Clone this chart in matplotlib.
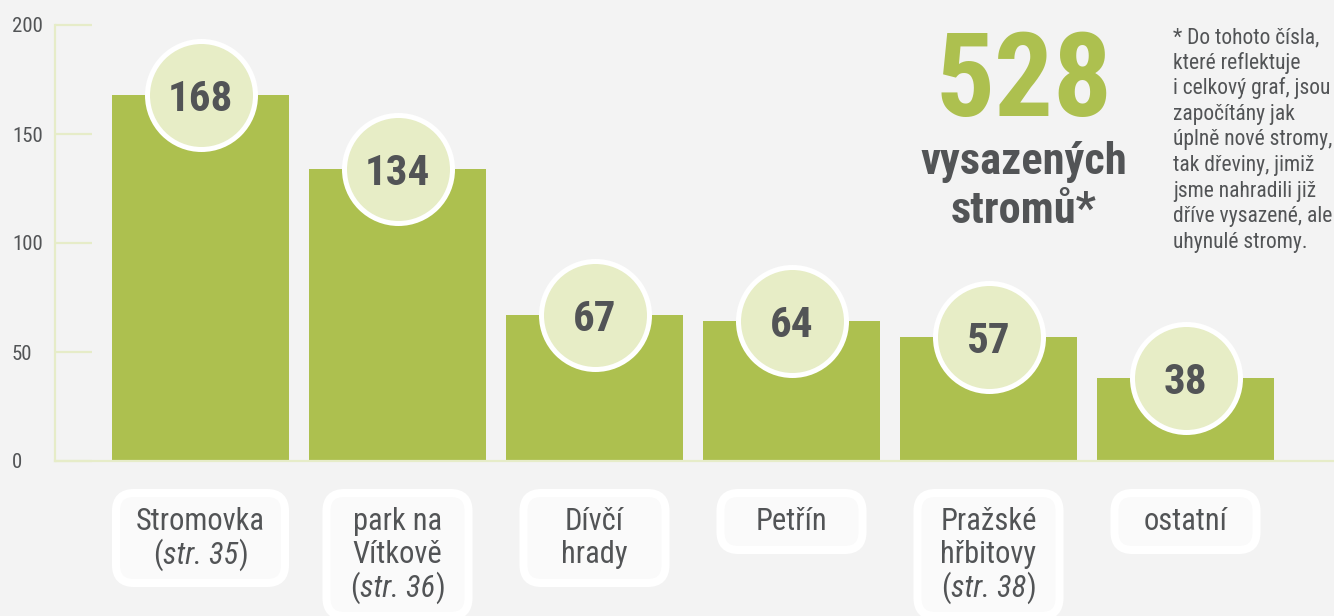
import matplotlib
matplotlib.use("Agg")
import matplotlib.pyplot as plt
from matplotlib import font_manager
from matplotlib.patches import FancyBboxPatch
from matplotlib.offsetbox import TextArea, HPacker, AnnotationBbox

# ---- data ----
names = ["Stromovka", "park na\nVítkově", "Dívčí\nhrady", "Petřín", "Pražské\nhřbitovy", "ostatní"]
pages = ["35", "36", None, None, "38", None]
values = [168, 134, 67, 64, 57, 38]
total = 528
yticks = [0, 50, 100, 150, 200]
total_label = ["vysazených", "stromů*"]
note_lines = ["* Do tohoto čísla,", "které reflektuje", "i celkový graf, jsou",
              "započítány jak", "úplně nové stromy,", "tak dřeviny, jimiž",
              "jsme nahradili již", "dříve vysazené, ale", "uhynulé stromy."]

# ---- style ----
BG = "#f3f3f3"
GREEN = "#adc04f"
PALE = "#e6ecc8"
CIRCLE = "#e7edc6"
DARK = "#525456"
BOXFILL = "#fafafa"

avail = {f.name for f in font_manager.fontManager.ttflist}
FONT = next((f for f in ["Roboto Condensed", "Liberation Sans Narrow", "DejaVu Sans"] if f in avail), "DejaVu Sans")
plt.rcParams["font.family"] = [FONT, "DejaVu Sans"]

W, H = 1334, 616
fig = plt.figure(figsize=(W / 100, H / 100), dpi=100, facecolor=BG)
ax = fig.add_axes([55 / W, 155 / H, 1279 / W, 436 / H])
ax.set_facecolor(BG)

x = list(range(len(values)))
ax.set_xlim(-145.5 / 197, (W - 200.5) / 197)
ax.set_ylim(0, 200)
pxx = 197.0          # pixels per x unit
pxy = 436 / 200.0    # pixels per y unit

ax.bar(x, values, width=177 / 197, color=GREEN, zorder=2)

# axis styling
for s in ["top", "right"]:
    ax.spines[s].set_visible(False)
ax.spines["left"].set_bounds(0, 200)
for s in ["left", "bottom"]:
    ax.spines[s].set_color(PALE)
    ax.spines[s].set_linewidth(1.6)
ax.set_xticks([])
ax.set_yticks(yticks)
ax.set_yticklabels([str(t) for t in yticks])
ax.tick_params(axis="y", direction="in", length=37 * 0.72, width=1.6, color=PALE,
               pad=31, labelsize=15, labelcolor=DARK)
for lab in ax.get_yticklabels():
    lab.set_horizontalalignment("left")

# value circles
ax.scatter(x, values, s=(108 * 0.72) ** 2, c=CIRCLE, edgecolors="white",
           linewidths=3.6, zorder=3, clip_on=False)
for i, v in zip(x, values):
    ax.text(i, v, str(v), ha="center", va="center_baseline", fontsize=31,
            fontweight="bold", color=DARK, zorder=4)

# category labels in rounded boxes
LINE = 33
packs = []
for i, name, page in zip(x, names, pages):
    lines = [[(l, "normal")] for l in name.split("\n")]
    if page:
        lines.append([("(", "normal"), ("str. " + page, "italic"), (")", "normal")])
    n = len(lines)
    box_h = LINE * n + 24
    center = 32 + box_h / 2
    for k, parts in enumerate(lines):
        kids = [TextArea(t, textprops=dict(fontsize=22, color=DARK, style=st, family=[FONT, "DejaVu Sans"]))
                for t, st in parts]
        pk = HPacker(children=kids, align="baseline", pad=0, sep=0)
        off = center + (k - (n - 1) / 2) * LINE
        ab = AnnotationBbox(pk, (i, 0), xybox=(0, -off * 0.72), xycoords="data",
                            boxcoords="offset points", box_alignment=(0.5, 0.5),
                            frameon=False, annotation_clip=False, zorder=6)
        ax.add_artist(ab)
        packs.append((i, box_h, pk))

fig.canvas.draw()
r = fig.canvas.get_renderer()
widths = {}
heights = {}
for i, box_h, pk in packs:
    widths[i] = max(widths.get(i, 0), pk.get_window_extent(r).width)
    heights[i] = box_h
for i in x:
    bw = max(142, widths[i] + 40) / pxx
    bh = heights[i] / pxy
    top = -32 / pxy
    ax.add_patch(FancyBboxPatch((i - bw / 2, top - bh), bw, bh,
                                boxstyle="round,pad=0,rounding_size=%f" % (18 / pxx),
                                mutation_aspect=pxx / pxy, fc=BOXFILL, ec="white",
                                lw=5.8, clip_on=False, zorder=5))

# total
fig.text(1024 / W, 1 - 116 / H, str(total), ha="center", va="baseline",
         fontsize=84, fontweight="bold", color=GREEN)
for k, t in enumerate(total_label):
    fig.text(1024 / W, 1 - (174 + k * 49) / H, t, ha="center", va="baseline",
             fontsize=32, fontweight="bold", color=DARK)

# footnote (cut at the right edge as in the original layout)
for k, t in enumerate(note_lines):
    fig.text(1173 / W, 1 - (43 + k * 25.6) / H, t, ha="left", va="baseline",
             fontsize=15.5, color=DARK)

fig.savefig("out.png", dpi=100, facecolor=BG)
